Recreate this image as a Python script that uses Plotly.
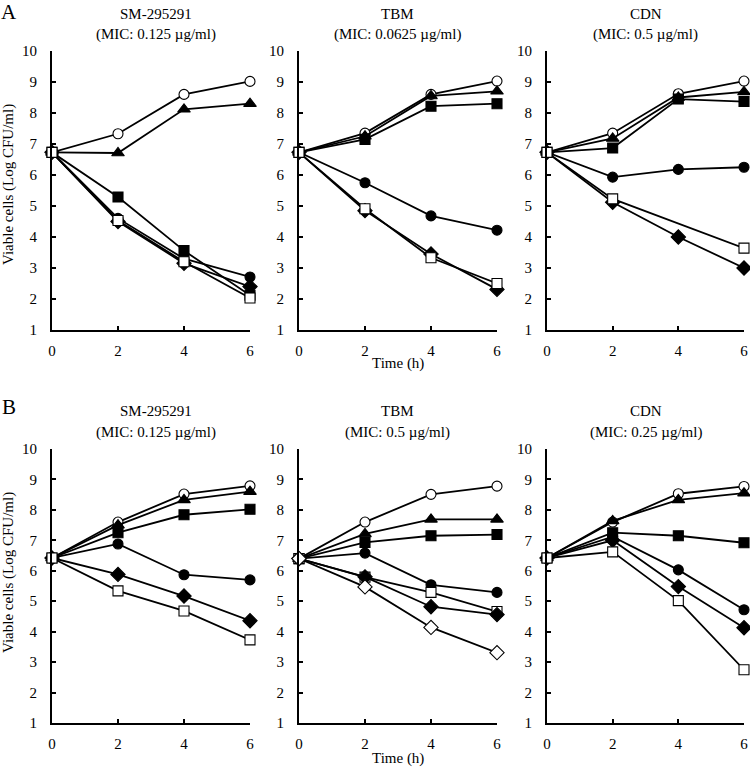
import plotly.graph_objects as go

TIME = [0, 2, 4, 6]

# Panel A — SM-295291 (MIC 0.125)
A1_OPEN_CIRCLE = [6.73, 7.33, 8.60, 9.02]
A1_TRIANGLE = [6.73, 6.71, 8.12, 8.30]
A1_SQUARE = [6.73, 5.29, 3.56, 2.12]
A1_CIRCLE = [6.73, 4.60, 3.30, 2.71]
A1_DIAMOND = [6.73, 4.50, 3.15, 2.40]
A1_OPEN_SQUARE = [6.73, 4.53, 3.20, 2.03]

# Panel A — TBM (MIC 0.0625)
A2_OPEN_CIRCLE = [6.73, 7.35, 8.60, 9.03]
A2_TRIANGLE = [6.73, 7.25, 8.55, 8.70]
A2_SQUARE = [6.73, 7.15, 8.22, 8.30]
A2_CIRCLE = [6.73, 5.75, 4.68, 4.22]
A2_DIAMOND = [6.73, 4.85, 3.45, 2.31]
A2_OPEN_SQUARE = [6.73, 4.91, 3.33, 2.50]

# Panel A — CDN (MIC 0.5)
A3_OPEN_CIRCLE = [6.73, 7.35, 8.62, 9.03]
A3_TRIANGLE = [6.73, 7.18, 8.50, 8.68]
A3_SQUARE = [6.73, 6.87, 8.45, 8.37]
A3_CIRCLE = [6.73, 5.93, 6.18, 6.25]
A3_DIAMOND = [6.73, 5.12, 4.00, 3.00]
A3_OPEN_SQUARE = [6.73, 5.23, None, 3.64]

# Panel B — SM-295291 (MIC 0.125)
B1_OPEN_CIRCLE = [6.42, 7.60, 8.52, 8.79]
B1_TRIANGLE = [6.42, 7.50, 8.33, 8.60]
B1_SQUARE = [6.42, 7.25, 7.84, 8.02]
B1_CIRCLE = [6.42, 6.88, 5.87, 5.70]
B1_DIAMOND = [6.42, 5.88, 5.17, 4.36]
B1_OPEN_SQUARE = [6.42, 5.34, 4.68, 3.73]

# Panel B — TBM (MIC 0.5)
B2_OPEN_CIRCLE = [6.40, 7.60, 8.51, 8.78]
B2_TRIANGLE = [6.40, 7.21, 7.69, 7.69]
B2_SQUARE = [6.40, 6.93, 7.15, 7.19]
B2_CIRCLE = [6.40, 6.58, 5.54, 5.29]
B2_DIAMOND = [6.40, 5.80, 4.82, 4.56]
B2_OPEN_SQUARE = [6.40, 5.79, 5.29, 4.66]
B2_OPEN_DIAMOND = [6.40, 5.47, 4.14, 3.31]

# Panel B — CDN (MIC 0.25)
B3_OPEN_CIRCLE = [6.42, 7.60, 8.53, 8.77]
B3_TRIANGLE = [6.42, 7.64, 8.33, 8.55]
B3_SQUARE = [6.42, 7.25, 7.15, 6.92]
B3_CIRCLE = [6.42, 7.12, 6.03, 4.72]
B3_DIAMOND = [6.42, 7.00, 5.48, 4.13]
B3_OPEN_SQUARE = [6.42, 6.62, 5.02, 2.75]

TITLES = [
    ("SM-295291", "(MIC: 0.125 µg/ml)"),
    ("TBM", "(MIC: 0.0625 µg/ml)"),
    ("CDN", "(MIC: 0.5 µg/ml)"),
    ("SM-295291", "(MIC: 0.125 µg/ml)"),
    ("TBM", "(MIC: 0.5 µg/ml)"),
    ("CDN", "(MIC: 0.25 µg/ml)"),
]
Y_TICKS = [1, 2, 3, 4, 5, 6, 7, 8, 9, 10]
X_TICKS = [0, 2, 4, 6]

STYLES = {
    "open_circle": dict(symbol="circle", color="white", size=10),
    "triangle": dict(symbol="triangle-up", color="black", size=11),
    "square": dict(symbol="square", color="black", size=10),
    "circle": dict(symbol="circle", color="black", size=10),
    "diamond": dict(symbol="diamond", color="black", size=11),
    "open_square": dict(symbol="square", color="white", size=10),
    "open_diamond": dict(symbol="diamond", color="white", size=11),
}

PANELS = [
    [("open_circle", A1_OPEN_CIRCLE), ("triangle", A1_TRIANGLE), ("square", A1_SQUARE),
     ("circle", A1_CIRCLE), ("diamond", A1_DIAMOND), ("open_square", A1_OPEN_SQUARE)],
    [("open_circle", A2_OPEN_CIRCLE), ("triangle", A2_TRIANGLE), ("square", A2_SQUARE),
     ("circle", A2_CIRCLE), ("diamond", A2_DIAMOND), ("open_square", A2_OPEN_SQUARE)],
    [("open_circle", A3_OPEN_CIRCLE), ("triangle", A3_TRIANGLE), ("square", A3_SQUARE),
     ("circle", A3_CIRCLE), ("diamond", A3_DIAMOND), ("open_square", A3_OPEN_SQUARE)],
    [("open_circle", B1_OPEN_CIRCLE), ("triangle", B1_TRIANGLE), ("square", B1_SQUARE),
     ("circle", B1_CIRCLE), ("diamond", B1_DIAMOND), ("open_square", B1_OPEN_SQUARE)],
    [("open_circle", B2_OPEN_CIRCLE), ("triangle", B2_TRIANGLE), ("square", B2_SQUARE),
     ("circle", B2_CIRCLE), ("open_square", B2_OPEN_SQUARE), ("diamond", B2_DIAMOND),
     ("open_diamond", B2_OPEN_DIAMOND)],
    [("open_circle", B3_OPEN_CIRCLE), ("triangle", B3_TRIANGLE), ("square", B3_SQUARE),
     ("circle", B3_CIRCLE), ("diamond", B3_DIAMOND), ("open_square", B3_OPEN_SQUARE)],
]

W, H = 750, 770
# plot-area pixel boxes (left, right) and (top, bottom)
COLS = [(52, 250), (299, 497), (547, 744)]
ROWS = [(51, 330), (449, 723)]
YLABEL_CENTER = [185, 573]

FONT = "Liberation Serif, Times New Roman, serif"

fig = go.Figure()
layout = dict(
    template="none",
    width=W, height=H, margin=dict(l=0, r=0, t=0, b=0, autoexpand=False),
    paper_bgcolor="white", plot_bgcolor="white", showlegend=False,
    font=dict(family=FONT, size=15, color="black"),
)
annotations = []


def note(text, px, py, size=15, angle=0):
    return dict(text=text, x=px / W, y=1 - py / H, xref="paper", yref="paper",
                xanchor="center", yanchor="middle", showarrow=False,
                textangle=angle, font=dict(family=FONT, size=size, color="black"))


for i, series in enumerate(PANELS):
    r, c = divmod(i, 3)
    n = i + 1
    xa = "x" if n == 1 else f"x{n}"
    ya = "y" if n == 1 else f"y{n}"
    x0, x1 = COLS[c]
    y0, y1 = ROWS[r]
    for name, vals in series:
        st = STYLES[name]
        fig.add_trace(go.Scatter(
            x=TIME, y=vals, mode="lines+markers", connectgaps=True,
            xaxis=xa, yaxis=ya, cliponaxis=False,
            line=dict(color="black", width=1.8),
            marker=dict(symbol=st["symbol"], size=st["size"], color=st["color"],
                        line=dict(color="black", width=1.1)),
            hoverinfo="x+y", name=name,
        ))
    axkw = dict(showgrid=False, zeroline=False, showline=True, linecolor="black",
                linewidth=2, ticks="inside", ticklen=4, tickwidth=1.5, tickcolor="black",
                automargin=False,
                tickfont=dict(family=FONT, size=15, color="black"))
    layout["xaxis" + ("" if n == 1 else str(n))] = dict(
        axkw, domain=[x0 / W, x1 / W], range=[0, 6], tickvals=X_TICKS,
        anchor=ya, ticklabelstandoff=6)
    layout["yaxis" + ("" if n == 1 else str(n))] = dict(
        axkw, domain=[1 - y1 / H, 1 - y0 / H], range=[1, 10], tickvals=Y_TICKS,
        anchor=xa, ticklabelstandoff=10)
    t1, t2 = TITLES[i]
    cx = (x0 + x1) / 2 + (5 if c == 0 else 0)
    ty = 14 if r == 0 else 411
    annotations.append(note(t1, cx, ty))
    annotations.append(note(t2, cx, ty + 21))

for r, (y0, y1) in enumerate(ROWS):
    tx_y = 364 if r == 0 else 758
    annotations.append(note("Time (h)", (COLS[1][0] + COLS[1][1]) / 2, tx_y))
    annotations.append(note("Viable cells (Log CFU/ml)", 8, YLABEL_CENTER[r], angle=-90))

annotations.append(note("A", 9, 12, size=21))
annotations.append(note("B", 9, 407, size=21))

layout["annotations"] = annotations
fig.update_layout(**layout)
fig.write_html("out.html", config={"displayModeBar": False},
               post_script="document.body.style.margin='0';")
